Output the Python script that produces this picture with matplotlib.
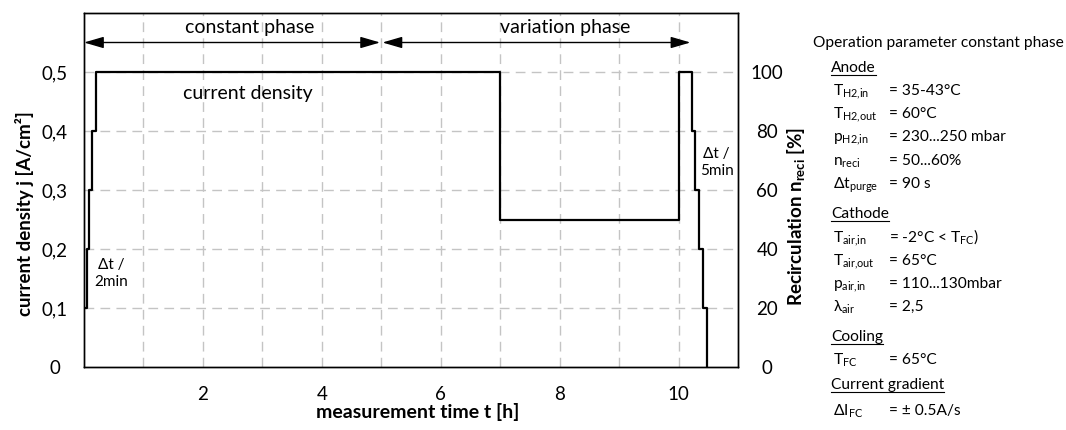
import matplotlib
matplotlib.use("Agg")
import matplotlib.pyplot as plt
from matplotlib.lines import Line2D

# ---- data -------------------------------------------------------------
time_h = [0.0, 0.045, 0.09, 0.14, 0.2, 7.0, 10.0, 10.23, 10.27, 10.34, 10.41, 10.48]
current_density = [0.1, 0.2, 0.3, 0.4, 0.5, 0.25, 0.5, 0.4, 0.3, 0.2, 0.1, 0.0]

x_ticks = [2, 4, 6, 8, 10]
y_ticks = [0.0, 0.1, 0.2, 0.3, 0.4, 0.5]
y_tick_labels = ["0", "0,1", "0,2", "0,3", "0,4", "0,5"]
recirc_ticks = [0, 20, 40, 60, 80, 100]

phases = ["constant phase", "variation phase"]
phase_spans = [(0.0, 4.98), (5.02, 10.2)]
phase_label_x = [2.79, 8.1]

param_rows = [
    ("head", "Anode", ""),
    ("param", "T$_\\mathregular{H2{,}in}$", "= 35-43°C"),
    ("param", "T$_\\mathregular{H2{,}out}$", "= 60°C"),
    ("param", "p$_\\mathregular{H2{,}in}$", "= 230...250 mbar"),
    ("param", "n$_\\mathregular{reci}$", "= 50...60%"),
    ("param", "Δt$_\\mathregular{purge}$", "= 90 s"),
    ("head", "Cathode", ""),
    ("param", "T$_\\mathregular{air{,}in}$", "= -2°C < T$_\\mathregular{FC}$)"),
    ("param", "T$_\\mathregular{air{,}out}$", "= 65°C"),
    ("param", "p$_\\mathregular{air{,}in}$", "= 110...130mbar"),
    ("param", "λ$_\\mathregular{air}$", "= 2,5"),
    ("head", "Cooling", ""),
    ("param", "T$_\\mathregular{FC}$", "= 65°C"),
    ("head", "Current gradient", ""),
    ("param", "ΔI$_\\mathregular{FC}$", "= ± 0.5A/s"),
]
row_y_px = [67, 90, 113, 136, 160, 183, 213, 237, 260, 283, 306, 336, 359, 384, 410]

# ---- style ------------------------------------------------------------
plt.rcParams["font.family"] = ["Lato", "DejaVu Sans"]
plt.rcParams["mathtext.fontset"] = "custom"
plt.rcParams["mathtext.rm"] = "Lato"
W, H = 1066, 430
fig = plt.figure(figsize=(W / 100, H / 100), dpi=100)
ax = fig.add_axes([84 / W, 1 - 367 / H, (738 - 84) / W, (367 - 13) / H])

grid_kw = dict(color="#c4c4c4", lw=1.0, linestyle=(0, (7, 4.5)), zorder=0)
for gx in range(1, 11):
    ax.axvline(gx, **grid_kw)
for gy in [0.1, 0.2, 0.3, 0.4, 0.5]:
    ax.axhline(gy, **grid_kw)

ax.plot(time_h, current_density, drawstyle="steps-post", color="black", lw=1.6, zorder=3)

ax.set_xlim(0, 11)
ax.set_ylim(0, 0.6)
ax.set_xticks(x_ticks)
ax.set_xticklabels([str(v) for v in x_ticks])
ax.set_yticks(y_ticks)
ax.set_yticklabels(y_tick_labels)
ax.tick_params(axis="both", length=0, labelsize=13.5)
ax.tick_params(axis="y", pad=21)
ax.tick_params(axis="x", pad=20)
for lab in ax.get_yticklabels():
    lab.set_horizontalalignment("center")
for lab in ax.get_xticklabels():
    lab.set_verticalalignment("center")
for sp in ax.spines.values():
    sp.set_linewidth(1.0)

ax2 = ax.twinx()
ax2.set_ylim(0, 120)
ax2.set_yticks(recirc_ticks)
ax2.set_yticklabels([str(v) for v in recirc_ticks])
ax2.tick_params(axis="y", length=0, labelsize=13.5, pad=21)
for lab in ax2.get_yticklabels():
    lab.set_horizontalalignment("center")
for sp in ax2.spines.values():
    sp.set_linewidth(1.0)

# phase arrows
for name, (x0, x1), lx in zip(phases, phase_spans, phase_label_x):
    ax.annotate("", xy=(x1, 0.55), xytext=(x0, 0.55),
                arrowprops=dict(arrowstyle="<|-|>,head_length=1.2,head_width=0.35",
                                color="black", lw=1.0, shrinkA=0, shrinkB=0))
    ax.text(lx, 0.575, name, ha="center", va="center", fontsize=14)

ax.text(2.76, 0.464, "current density", ha="center", va="center", fontsize=14)
ax.text(0.45, 0.158, "Δt /\n2min", ha="center", va="center", fontsize=11, linespacing=1.25)
ax.text(10.64, 0.347, "Δt /\n5min", ha="center", va="center", fontsize=11, linespacing=1.25)

# axis titles
fig.text(418 / W, 1 - 412 / H, "measurement time t [h]", ha="center", va="center",
         fontsize=14, fontweight="bold")
fig.text(25 / W, 1 - 214 / H, "current density j [A/cm²]", ha="center", va="center",
         rotation=90, fontsize=13.5, fontweight="bold")
fig.text(797 / W, 1 - 216 / H, "Recirculation n$_\\mathregular{reci}$ [%]", ha="center",
         va="center", rotation=90, fontsize=13.5, fontweight="bold")

# operating parameter panel
fig.text(813 / W, 1 - 43 / H, "Operation parameter constant phase", ha="left", va="center",
         fontsize=11.2)
headers = []
for (kind, name, value), yp in zip(param_rows, row_y_px):
    yb = 1 - (yp + 5) / H
    if kind == "head":
        t = fig.text(831 / W, yb, name, ha="left", va="baseline", fontsize=11.2)
        headers.append(t)
    else:
        fig.text(833 / W, yb, name, ha="left", va="baseline", fontsize=11.2)
        fig.text(889 / W, yb, value, ha="left", va="baseline", fontsize=11.2)

fig.canvas.draw()
renderer = fig.canvas.get_renderer()
for t in headers:
    bb = t.get_window_extent(renderer)
    x0, y0 = t.get_position()
    yline = y0 - 3.0 / H
    fig.add_artist(Line2D([bb.x0 / W, bb.x1 / W], [yline, yline],
                          transform=fig.transFigure, color="black", lw=0.8))

fig.savefig("out.png", dpi=100)
